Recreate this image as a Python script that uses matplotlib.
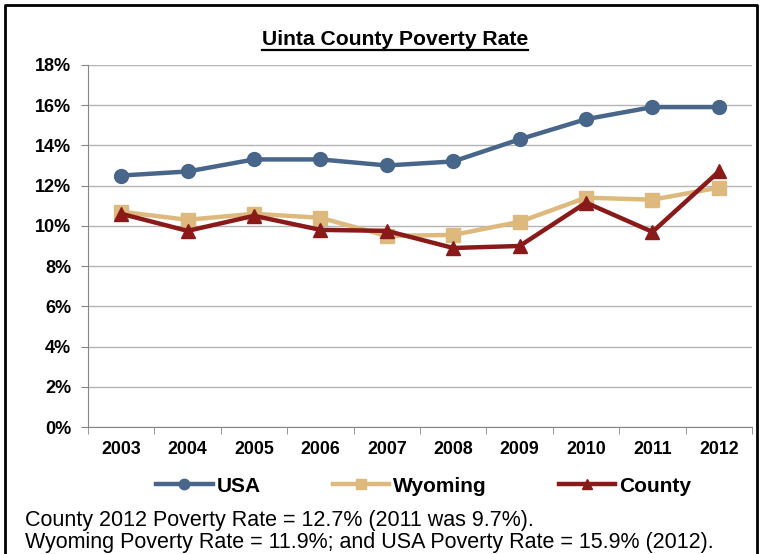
import matplotlib.pyplot as plt
from matplotlib.lines import Line2D
from matplotlib.ticker import FuncFormatter, FixedLocator

plt.rcParams['font.family'] = ['Liberation Sans', 'DejaVu Sans']

years = ['2003', '2004', '2005', '2006', '2007', '2008', '2009', '2010', '2011', '2012']
usa = [12.5, 12.7, 13.3, 13.3, 13.0, 13.2, 14.3, 15.3, 15.9, 15.9]
wyoming = [10.7, 10.3, 10.6, 10.4, 9.5, 9.55, 10.2, 11.4, 11.3, 11.9]
county = [10.6, 9.75, 10.5, 9.8, 9.75, 8.9, 9.0, 11.15, 9.7, 12.7]
notes = ["County 2012 Poverty Rate = 12.7% (2011 was 9.7%).",
         "Wyoming Poverty Rate = 11.9%; and USA Poverty Rate = 15.9% (2012)."]

c_usa = '#48658A'
c_wy = '#DDB97D'
c_co = '#8A1A1A'

fig = plt.figure(figsize=(7.62, 5.54), dpi=100)
ax = fig.add_axes([0.1155, 0.229, 0.8715, 0.654])

x = list(range(len(years)))
ax.plot(x, usa, color=c_usa, lw=3.2, marker='o', ms=10, label='USA', zorder=3)
ax.plot(x, wyoming, color=c_wy, lw=3.2, marker='s', ms=9.5, label='Wyoming', zorder=4)
ax.plot(x, county, color=c_co, lw=3.2, marker='^', ms=10, label='County', zorder=5)

ax.set_xlim(-0.5, len(years) - 0.5)
ax.set_ylim(0, 18)
ax.set_yticks(range(0, 19, 2))
ax.yaxis.set_major_formatter(FuncFormatter(lambda v, p: f'{v:.0f}%'))
ax.yaxis.grid(True, color='#B4B4B4', lw=1)
ax.set_axisbelow(True)

ax.set_xticks(x)
ax.set_xticklabels(years, fontsize=12.8, fontweight='bold')
ax.tick_params(axis='x', which='major', length=0, pad=10)
ax.xaxis.set_minor_locator(FixedLocator([i - 0.5 for i in range(len(years) + 1)]))
ax.tick_params(axis='x', which='minor', length=5, color='#868686', direction='out')
ax.tick_params(axis='y', length=5, color='#868686', labelsize=13, pad=7)
for lab in ax.get_yticklabels():
    lab.set_fontweight('bold')

for s in ['top', 'right']:
    ax.spines[s].set_visible(False)
for s in ['left', 'bottom']:
    ax.spines[s].set_color('#868686')

title = fig.text(0.518, 0.928, 'Uinta County Poverty Rate', ha='center', va='center',
                 fontsize=15.2, fontweight='bold')
fig.canvas.draw()
bb = title.get_window_extent().transformed(fig.transFigure.inverted())
fig.add_artist(Line2D([bb.x0, bb.x1], [bb.y0 - 0.001, bb.y0 - 0.001], color='black', lw=1.6))

fig.legend(loc='center', bbox_to_anchor=(0.556, 0.1227), ncol=3, frameon=False,
           prop={'weight': 'bold', 'size': 15}, handlelength=2.7, handletextpad=0.2,
           columnspacing=3.45, borderaxespad=0, markerscale=0.75)

fig.text(0.033, 0.0596, notes[0], fontsize=15.5, va='center')
fig.text(0.033, 0.0199, notes[1], fontsize=15.5, va='center')

# frame around the chart (bottom edge is cut off)
fig.add_artist(Line2D([0.007, 0.007, 0.993, 0.993], [0.0, 0.991, 0.991, 0.0],
                      color='black', lw=2))

fig.savefig('out.png', dpi=100)
